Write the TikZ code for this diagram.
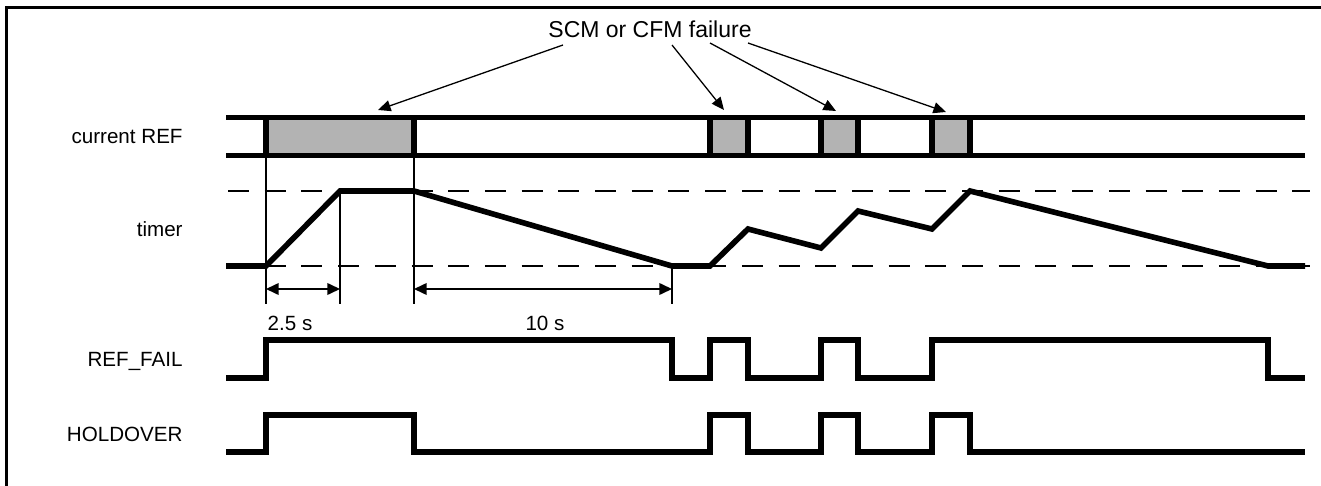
\documentclass[tikz,border=0pt]{standalone}
\usepackage{fontspec}
\setmainfont{Liberation Sans}
\usetikzlibrary{arrows.meta}
\definecolor{failgray}{HTML}{B3B3B3}
\begin{document}
\begin{tikzpicture}[x=0.5pt,y=-0.5pt,
  sig/.style={line width=2.8pt, line cap=butt, line join=miter},
  frameline/.style={line width=1.1pt},
  thinline/.style={line width=0.85pt},
  dashline/.style={line width=1.35pt, dash pattern=on 10.5pt off 7.85pt},
  dimarrow/.style={line width=0.8pt, {Triangle[length=6.3pt,width=5.8pt]}-{Triangle[length=6.3pt,width=5.8pt]}},
  callout/.style={line width=0.65pt, -{Triangle[length=6.3pt,width=5.5pt]}},
  failbox/.style={fill=failgray},
  siglabel/.style={anchor=east, inner sep=0pt, font=\fontsize{10.3}{12}\selectfont, text height=0.72em, text depth=0pt},
  dimlabel/.style={inner sep=0pt, font=\fontsize{10.3}{12}\selectfont, text height=0.72em, text depth=0pt},
  titlelabel/.style={inner sep=0pt, font=\fontsize{11.5}{13}\selectfont, text height=0.72em, text depth=0pt}
]
\useasboundingbox (0,0) rectangle (1321,486);
% frame (top and left)
\draw[frameline] (6.5,486) -- (6.5,7.5) -- (1321,7.5);

% labels
\node[siglabel] (lref) at (183,136) {current REF};
\node[siglabel] (ltimer) at (183,229) {timer};
\node[siglabel] (lfail) at (183,359) {REF\_FAIL};
\node[siglabel] (lhold) at (183,434) {HOLDOVER};
\node[titlelabel] (title) at (650,30) {SCM or CFM failure};
\node[dimlabel] (d1) at (290,323) {2.5 s};
\node[dimlabel] (d2) at (545,323) {10 s};

% current REF band
\fill[failbox] (266,117.5) rectangle (414,155.5);
\fill[failbox] (710,117.5) rectangle (748,155.5);
\fill[failbox] (821,117.5) rectangle (858,155.5);
\fill[failbox] (932,117.5) rectangle (970,155.5);
\draw[sig] (226,117.5) -- (1305,117.5);
\draw[sig] (226,155.5) -- (1305,155.5);
\foreach \xx in {266,414,710,748,821,858,932,970}
  \draw[sig] (\xx,117.5) -- (\xx,155.5);

% timer reference levels
\draw[dashline] (228,191) -- (1310,191);
\draw[dashline] (228,266) -- (1310,266);

% thin markers
\draw[thinline] (266,155.5) -- (266,304);
\draw[thinline] (340,191) -- (340,304);
\draw[thinline] (414,155.5) -- (414,304);
\draw[thinline] (672,266) -- (672,304);

% dimension arrows
\coordinate (a1) at (266,289);
\coordinate (b1) at (340,289);
\coordinate (a2) at (414,289);
\coordinate (b2) at (672,289);
\draw[dimarrow] (a1) -- (b1);
\draw[dimarrow] (a2) -- (b2);

% timer
\draw[sig] (226,266) -- (266,266) -- (340,191) -- (414,191) -- (672,266) -- (710,266)
  -- (748,229) -- (821,248) -- (858,211) -- (932,229) -- (970,191) -- (1268,266) -- (1305,266);

% REF_FAIL
\draw[sig] (226,378) -- (266,378) -- (266,340) -- (672,340) -- (672,378) -- (710,378)
  -- (710,340) -- (748,340) -- (748,378) -- (821,378) -- (821,340) -- (858,340)
  -- (858,378) -- (932,378) -- (932,340) -- (1268,340) -- (1268,378) -- (1305,378);

% HOLDOVER
\draw[sig] (226,452) -- (266,452) -- (266,415) -- (414,415) -- (414,452) -- (710,452)
  -- (710,415) -- (748,415) -- (748,452) -- (821,452) -- (821,415) -- (858,415)
  -- (858,452) -- (932,452) -- (932,415) -- (970,415) -- (970,452) -- (1305,452);

% callout arrows
\coordinate (s1) at (563,45);
\coordinate (s2) at (672,45);
\coordinate (s3) at (710,43);
\coordinate (s4) at (748,43);
\coordinate (t1) at (378,110);
\coordinate (t2) at (724,110);
\coordinate (t3) at (836,111);
\coordinate (t4) at (946,112);
\draw[callout] (s1) -- (t1);
\draw[callout] (s2) -- (t2);
\draw[callout] (s3) -- (t3);
\draw[callout] (s4) -- (t4);
\end{tikzpicture}
\end{document}
